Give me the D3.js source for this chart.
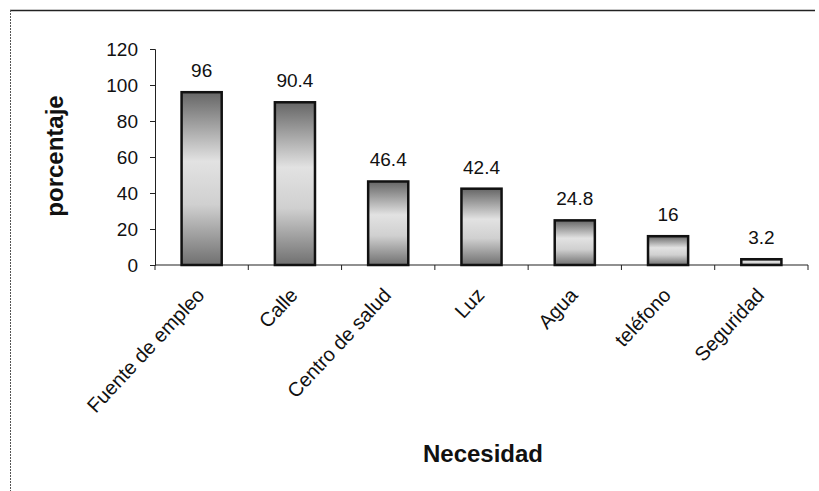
<!DOCTYPE html>
<html>
<head>
<meta charset="utf-8">
<script src="https://cdn.jsdelivr.net/npm/d3@7"></script>
<style>
  body { margin: 0; background: #fff; }
  text { font-family: "Liberation Sans", Arial, sans-serif; fill: #111; }
</style>
</head>
<body>
<div id="chart"></div>
<script>
// data
const categories = ["Fuente de empleo", "Calle", "Centro de salud", "Luz", "Agua", "teléfono", "Seguridad"]
const values = [96, 90.4, 46.4, 42.4, 24.8, 16, 3.2]
const yTicks = [0, 20, 40, 60, 80, 100, 120]

const width = 819
const height = 491
const margin = {top: 49, left: 155, right: 11, bottom: 226}

const svg = d3.select("#chart")
  .append("svg")
    .attr("width", width)
    .attr("height", height)

// frame (only top and left edges show in the scan)
svg.append("line")
  .attr("x1", 10).attr("x2", 815).attr("y1", 10.5).attr("y2", 10.5)
  .attr("stroke", "#222").attr("stroke-width", 1.5)
svg.append("line")
  .attr("x1", 10.5).attr("x2", 10.5).attr("y1", 10).attr("y2", height)
  .attr("stroke", "#555").attr("stroke-width", 1).attr("stroke-dasharray", "2,1")

// bar gradient: dark at the ends, light in the middle
const grad = svg.append("defs").append("linearGradient")
  .attr("id", "barGrad")
  .attr("x1", 0).attr("y1", 0).attr("x2", 0).attr("y2", 1)
grad.append("stop").attr("offset", "0%").attr("stop-color", "#666")
grad.append("stop").attr("offset", "40%").attr("stop-color", "#e2e2e2")
grad.append("stop").attr("offset", "65%").attr("stop-color", "#d0d0d0")
grad.append("stop").attr("offset", "100%").attr("stop-color", "#707070")

const x = d3.scaleBand()
  .domain(categories)
  .range([margin.left, width - margin.right])
  .paddingInner(0.57)
  .paddingOuter(0.285)

const y = d3.scaleLinear()
  .domain([0, 120])
  .range([height - margin.bottom, margin.top])

// y axis
const yAxis = svg.append("g")
  .attr("transform", `translate(${margin.left},0)`)
  .call(d3.axisLeft(y).tickValues(yTicks).tickSize(5).tickPadding(12))
yAxis.select(".domain").attr("stroke", "#222")
yAxis.selectAll(".tick line").attr("stroke", "#222")
yAxis.selectAll("text").attr("font-size", 19).style("font-family", "Liberation Sans, Arial, sans-serif")

// x axis: ticks sit between categories
const bandStep = x.step()
const bounds = d3.range(categories.length + 1).map(i => margin.left + i * bandStep)
svg.append("line")
  .attr("x1", margin.left).attr("x2", width - margin.right)
  .attr("y1", y(0)).attr("y2", y(0))
  .attr("stroke", "#222").attr("stroke-width", 1.2)
svg.append("g").selectAll("line")
  .data(bounds)
  .join("line")
    .attr("x1", d => d).attr("x2", d => d)
    .attr("y1", y(0)).attr("y2", y(0) + 5)
    .attr("stroke", "#222")

// bars
svg.append("g").selectAll("rect")
  .data(values)
  .join("rect")
    .attr("x", (d, i) => x(categories[i]))
    .attr("y", d => y(d))
    .attr("width", x.bandwidth())
    .attr("height", d => y(0) - y(d))
    .attr("fill", "url(#barGrad)")
    .attr("stroke", "#111")
    .attr("stroke-width", 2.5)

// value labels
svg.append("g").selectAll("text")
  .data(values)
  .join("text")
    .attr("x", (d, i) => x(categories[i]) + x.bandwidth() / 2)
    .attr("y", d => y(d) - 15)
    .attr("text-anchor", "middle")
    .attr("font-size", 19)
    .text(d => d)

// category labels, rotated
svg.append("g").selectAll("text")
  .data(categories)
  .join("text")
    .attr("transform", d => `translate(${x(d) + x.bandwidth() / 2 + 4},${y(0) + 31}) rotate(-47)`)
    .attr("text-anchor", "end")
    .attr("font-size", 20)
    .text(d => d)

// axis titles
svg.append("text")
  .attr("transform", `translate(63,156) rotate(-90)`)
  .attr("text-anchor", "middle")
  .attr("font-size", 24)
  .attr("font-weight", "bold")
  .text("porcentaje")

svg.append("text")
  .attr("x", 483)
  .attr("y", 462)
  .attr("text-anchor", "middle")
  .attr("font-size", 24)
  .attr("font-weight", "bold")
  .text("Necesidad")
</script>
</body>
</html>
